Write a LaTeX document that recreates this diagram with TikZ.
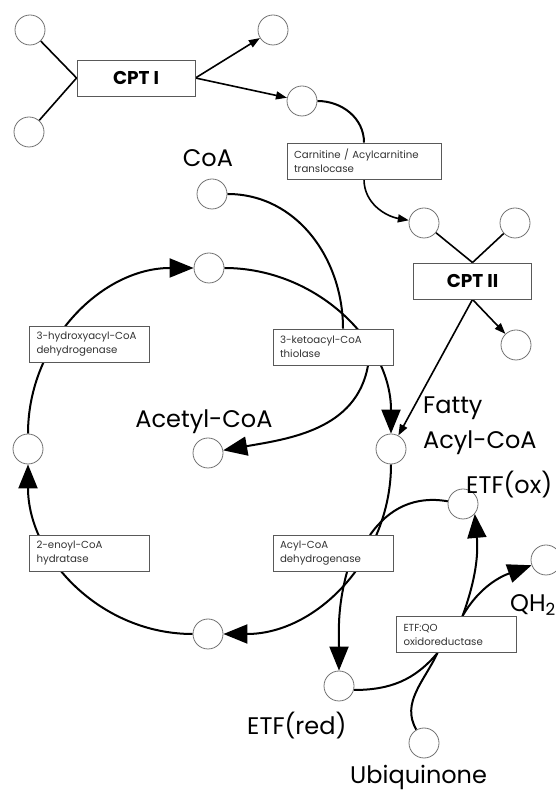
\documentclass[tikz,border=0pt]{standalone}
\usepackage{fontspec}
\setmainfont{Poppins}
\usetikzlibrary{arrows.meta, backgrounds}

\begin{document}
\begin{tikzpicture}[
  x=1pt, y=1pt,
  every node/.style={font=\fontsize{9}{13}\selectfont},
  mol/.style={circle, draw=black!55, fill=white, line width=0.8pt, minimum size=30pt, inner sep=0pt},
  enz/.style={rectangle, draw=black!65, fill=white, line width=0.9pt, minimum height=36pt,
    text width=#1, inner xsep=7pt, align=left, text=black!80, font=\fontsize{10.2}{14}\selectfont},
  enz/.default=106pt,
  cpt/.style={rectangle, draw=black!65, fill=white, line width=0.9pt, minimum width=118pt,
    minimum height=36pt, font=\fontsize{18.5}{18.5}\selectfont\bfseries},
  lbl/.style={font=\fontsize{24}{35}\selectfont, inner sep=0pt},
  cyc/.style={-{Triangle[length=24pt,width=19pt]}, line width=2pt},
  side/.style={line width=2pt},
  arr/.style={-{Triangle[length=11pt,width=8pt]}, line width=1.6pt},
  lnk/.style={line width=1.6pt}
]
\useasboundingbox (0,0) rectangle (556,794);

% ---- CARNITINE SHUTTLE ----
\node[mol] (acylcoa) at (30,764) {};
\node[mol] (carnitine) at (29,662) {};
\node[mol] (coaout) at (273,764) {};
\node[mol] (acylcarn) at (302,693) {};
\node[cpt] (cpt1) at (136,716) {CPT I};
\node[enz=140pt] (cact) at (364,633) {Carnitine / Acylcarnitine\\translocase};
\node[mol] (acylcarnin) at (424,571) {};
\node[mol] (coain) at (515,571) {};
\node[cpt] (cpt2) at (472.5,513) {CPT II};
\node[mol] (carnout) at (516,449) {};

% ---- BETA-OXIDATION CYCLE ----
\node[mol] (coa) at (212,600) {};
\node[mol] (ketoacyl) at (209,526) {};
\node[mol] (hydroxyacyl) at (28,345) {};
\node[mol] (acetyl) at (208,341) {};
\node[mol] (fatty) at (391,345) {};
\node[mol] (enoyl) at (208,160) {};
\node[enz] (thiol) at (333,447) {3-ketoacyl-CoA\\thiolase};
\node[enz] (hadh) at (89.5,449.5) {3-hydroxyacyl-CoA\\dehydrogenase};
\node[enz] (ech) at (89.5,241) {2-enoyl-CoA\\hydratase};
\node[enz] (acad) at (333,240.5) {Acyl-CoA\\dehydrogenase};

% ---- ELECTRON TRANSFER ----
\node[mol] (etfox) at (463,290) {};
\node[mol] (qh2) at (546,234) {};
\node[mol] (etfred) at (339,108) {};
\node[mol] (ubq) at (424,51) {};
\node[enz] (etfqo) at (456.5,159.5) {ETF:QO\\oxidoreductase};

% ---- LABELS ----
\node[lbl, anchor=base] at (208,627) {CoA};
\node[lbl, anchor=base] at (204,366) {Acetyl-CoA};
\node[lbl, anchor=west, align=left] at (423,368) {Fatty\\Acyl-CoA};
\node[lbl, anchor=base west] at (466,300) {ETF(ox)};
\node[lbl, anchor=base west] at (510,182) {QH\textsubscript{2}};
\node[lbl, anchor=base west] at (247,59) {ETF(red)};
\node[lbl, anchor=base west] at (350,10) {Ubiquinone};

% ---- CONNECTIONS ----
\begin{scope}[on background layer]
  % shuttle
  \draw[lnk] (acylcoa) -- (cpt1.west);
  \draw[lnk] (carnitine) -- (cpt1.west);
  \draw[arr] (cpt1.east) -- (coaout);
  \draw[arr] (cpt1.east) -- (acylcarn);
  \draw[side] (acylcarn) to[out=0,in=90] (cact.north);
  \draw[arr] (cact.south) to[out=-90,in=170] (acylcarnin);
  \draw[lnk] (acylcarnin) -- (cpt2.north);
  \draw[lnk] (coain) -- (cpt2.north);
  \draw[arr] (cpt2.south) -- (carnout);
  \draw[arr] (cpt2.south) -- (fatty);
  % cycle
  \draw[cyc] (hydroxyacyl) to[out=90,in=180] (ketoacyl);
  \draw[cyc] (ketoacyl) to[out=0,in=90] (fatty);
  \draw[cyc] (fatty) to[out=-90,in=0] (enoyl);
  \draw[cyc] (enoyl) to[out=180,in=-90] (hydroxyacyl);
  \draw[side] (coa) to[out=0,in=90] ([xshift=10pt]thiol.north);
  \draw[cyc] ([xshift=35pt]thiol.south) to[out=-100,in=10] (acetyl);
  % electron transfer
  \draw[side] ([xshift=37pt]acad.north) to[out=55,in=170] (etfox);
  \draw[cyc] ([xshift=14pt]acad.south) to[out=-105,in=90] (etfred);
  \draw[cyc] ([xshift=6pt]etfqo.north) to[out=70,in=-85] (etfox.-40);
  \draw[cyc] ([xshift=6pt]etfqo.north) to[out=60,in=200] (qh2);
  \draw[side] (etfred.-15) to[out=0,in=-130] ([xshift=-19pt]etfqo.south);
  \draw[side] ([xshift=-19pt]etfqo.south) to[out=-115,in=120] (ubq);
\end{scope}
\end{tikzpicture}
\end{document}
